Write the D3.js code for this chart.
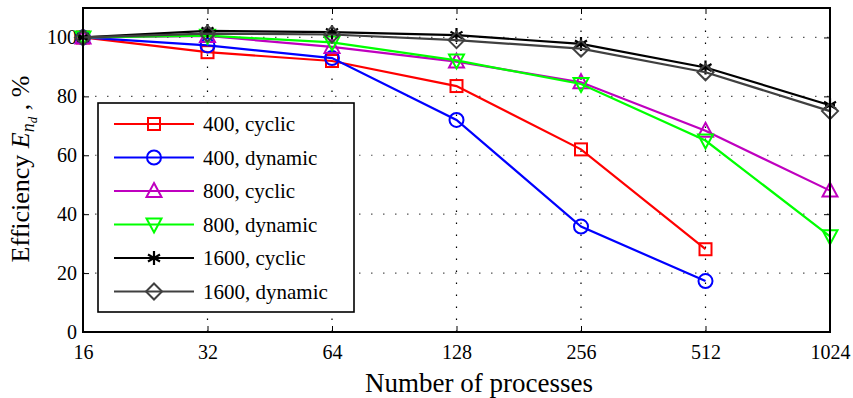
<!DOCTYPE html>
<html><head><meta charset="utf-8">
<script src="https://cdn.jsdelivr.net/npm/d3@7"></script>
<style>
body{margin:0;background:#fff}
svg{display:block}
svg text{font-family:"Liberation Serif","Times New Roman",Tinos,serif !important;}
</style>
</head><body><svg id="c" width="853" height="398"></svg>
<script>
const procs = [16, 32, 64, 128, 256, 512, 1024];
const xTicks = [16, 32, 64, 128, 256, 512, 1024];
const yTicks = [0, 20, 40, 60, 80, 100];
const s400cyclic   = [100, 95, 92, 83.5, 62, 28.1];
const s400dynamic  = [100, 97.3, 93, 72, 35.8, 17.3];
const s800cyclic   = [100, 100.5, 96.8, 91.8, 84.8, 68.3, 48];
const s800dynamic  = [100, 100.6, 98.3, 92.2, 84.2, 65, 32.5];
const s1600cyclic  = [100, 102.2, 101.8, 100.8, 97.8, 89.8, 77];
const s1600dynamic = [100, 101.3, 101, 99.1, 96.2, 88.2, 75];
const labels = ["400, cyclic","400, dynamic","800, cyclic","800, dynamic","1600, cyclic","1600, dynamic"];
const colors = ["#ff0000","#0000ff","#bf00bf","#00ff00","#000000","#404040"];
const markers = ["square","circle","triUp","triDown","star","diamond"];
const seriesVals = [s400cyclic,s400dynamic,s800cyclic,s800dynamic,s1600cyclic,s1600dynamic];

const svg = d3.select("#c");
const L=83, R=830, T=8, B=332;
const x = d3.scaleLog().base(2).domain([16,1024]).range([L,R]);
const y = d3.scaleLinear().domain([0,110]).range([B,T]);

// grid
const gridG = svg.append("g");
gridG.selectAll(".vg").data(xTicks.slice(1,-1)).enter().append("line")
 .attr("x1",d=>x(d)).attr("x2",d=>x(d)).attr("y1",B).attr("y2",T)
 .attr("stroke","#000").attr("stroke-width",1.2).attr("stroke-dasharray","1.5,10.5");
gridG.selectAll(".hg").data(yTicks.slice(1)).enter().append("line")
 .attr("x1",L).attr("x2",R).attr("y1",d=>y(d)).attr("y2",d=>y(d))
 .attr("stroke","#555").attr("stroke-width",1.2).attr("stroke-dasharray","1.5,10.5");

// axes with inward ticks
const ax = svg.append("g");
ax.append("g").attr("transform",`translate(0,${B})`)
 .call(d3.axisBottom(x).tickValues(xTicks).tickFormat(d3.format("d")).tickSize(-6).tickPadding(13));
ax.append("g").attr("transform",`translate(0,${T})`)
 .call(d3.axisTop(x).tickValues(xTicks).tickSize(-6).tickFormat(""));
ax.append("g").attr("transform",`translate(${L},0)`)
 .call(d3.axisLeft(y).tickValues(yTicks).tickSize(-6).tickPadding(6));
ax.append("g").attr("transform",`translate(${R},0)`)
 .call(d3.axisRight(y).tickValues(yTicks).tickSize(-6).tickFormat(""));
ax.selectAll(".domain").remove();
ax.selectAll("g").attr("font-family",null).attr("font-size",null);
ax.selectAll(".tick line").attr("stroke","#000").attr("stroke-width",1);
ax.selectAll(".tick text").style("font-size","20px").attr("fill","#000");

// markers
function drawMarker(sel, type, color, cx, cy){
  const gg = sel.append("g").attr("transform",`translate(${cx},${cy})`)
   .attr("fill","none").attr("stroke",color).attr("stroke-width",2);
  if(type==="square") gg.append("rect").attr("x",-6).attr("y",-6).attr("width",12).attr("height",12);
  else if(type==="circle") gg.append("circle").attr("r",7);
  else if(type==="triUp") gg.append("path").attr("d","M0,-8 L7.5,6 L-7.5,6 Z");
  else if(type==="triDown") gg.append("path").attr("d","M0,8 L7.5,-6 L-7.5,-6 Z");
  else if(type==="diamond") gg.append("path").attr("d","M0,-8 L8,0 L0,8 L-8,0 Z");
  else if(type==="star"){
    gg.append("path").attr("d","M0,-7 L0,7 M-6,-3.5 L6,3.5 M-6,3.5 L6,-3.5 M-5,0 L5,0").attr("stroke-width",2.2);
  }
}

const lineGen = d3.line().x((d,i)=>x(procs[i])).y(d=>y(d));
const plot = svg.append("g");
seriesVals.forEach((vals,k)=>{
  const sg = plot.append("g");
  sg.append("path").datum(vals).attr("d",lineGen).attr("fill","none")
    .attr("stroke",colors[k]).attr("stroke-width",2.2);
  vals.forEach((v,i)=>drawMarker(sg, markers[k], colors[k], x(procs[i]), y(v)));
});

// frame
svg.append("rect").attr("x",L).attr("y",T).attr("width",R-L).attr("height",B-T)
 .attr("fill","none").attr("stroke","#000").attr("stroke-width",2);

// legend
const lg = svg.append("g");
lg.append("rect").attr("x",98).attr("y",103).attr("width",256).attr("height",209)
 .attr("fill","#fff").attr("stroke","#000").attr("stroke-width",1.6);
labels.forEach((lab,k)=>{
  const yy = 124 + k*33.5;
  lg.append("line").attr("x1",114).attr("x2",194).attr("y1",yy).attr("y2",yy)
    .attr("stroke",colors[k]).attr("stroke-width",2.2);
  drawMarker(lg, markers[k], colors[k], 154, yy);
  lg.append("text").attr("x",203).attr("y",yy+7)
    .style("font-size","21px").attr("fill","#000").text(lab);
});

// axis labels
svg.append("text").attr("x",479).attr("y",392).attr("text-anchor","middle")
 .style("font-size","27px").attr("fill","#000").text("Number of processes");
const yt = svg.append("text").attr("transform","translate(29,169) rotate(-90)")
 .attr("text-anchor","middle").style("font-size","26px").attr("fill","#000");
yt.append("tspan").text("Efficiency ");
yt.append("tspan").style("font-style","italic").text("E");
yt.append("tspan").style("font-style","italic").style("font-size","18px").attr("dy",5).text("n");
yt.append("tspan").style("font-style","italic").style("font-size","13px").attr("dy",3).text("d");
yt.append("tspan").attr("dy",-8).text(" ,  %");
</script></body></html>
